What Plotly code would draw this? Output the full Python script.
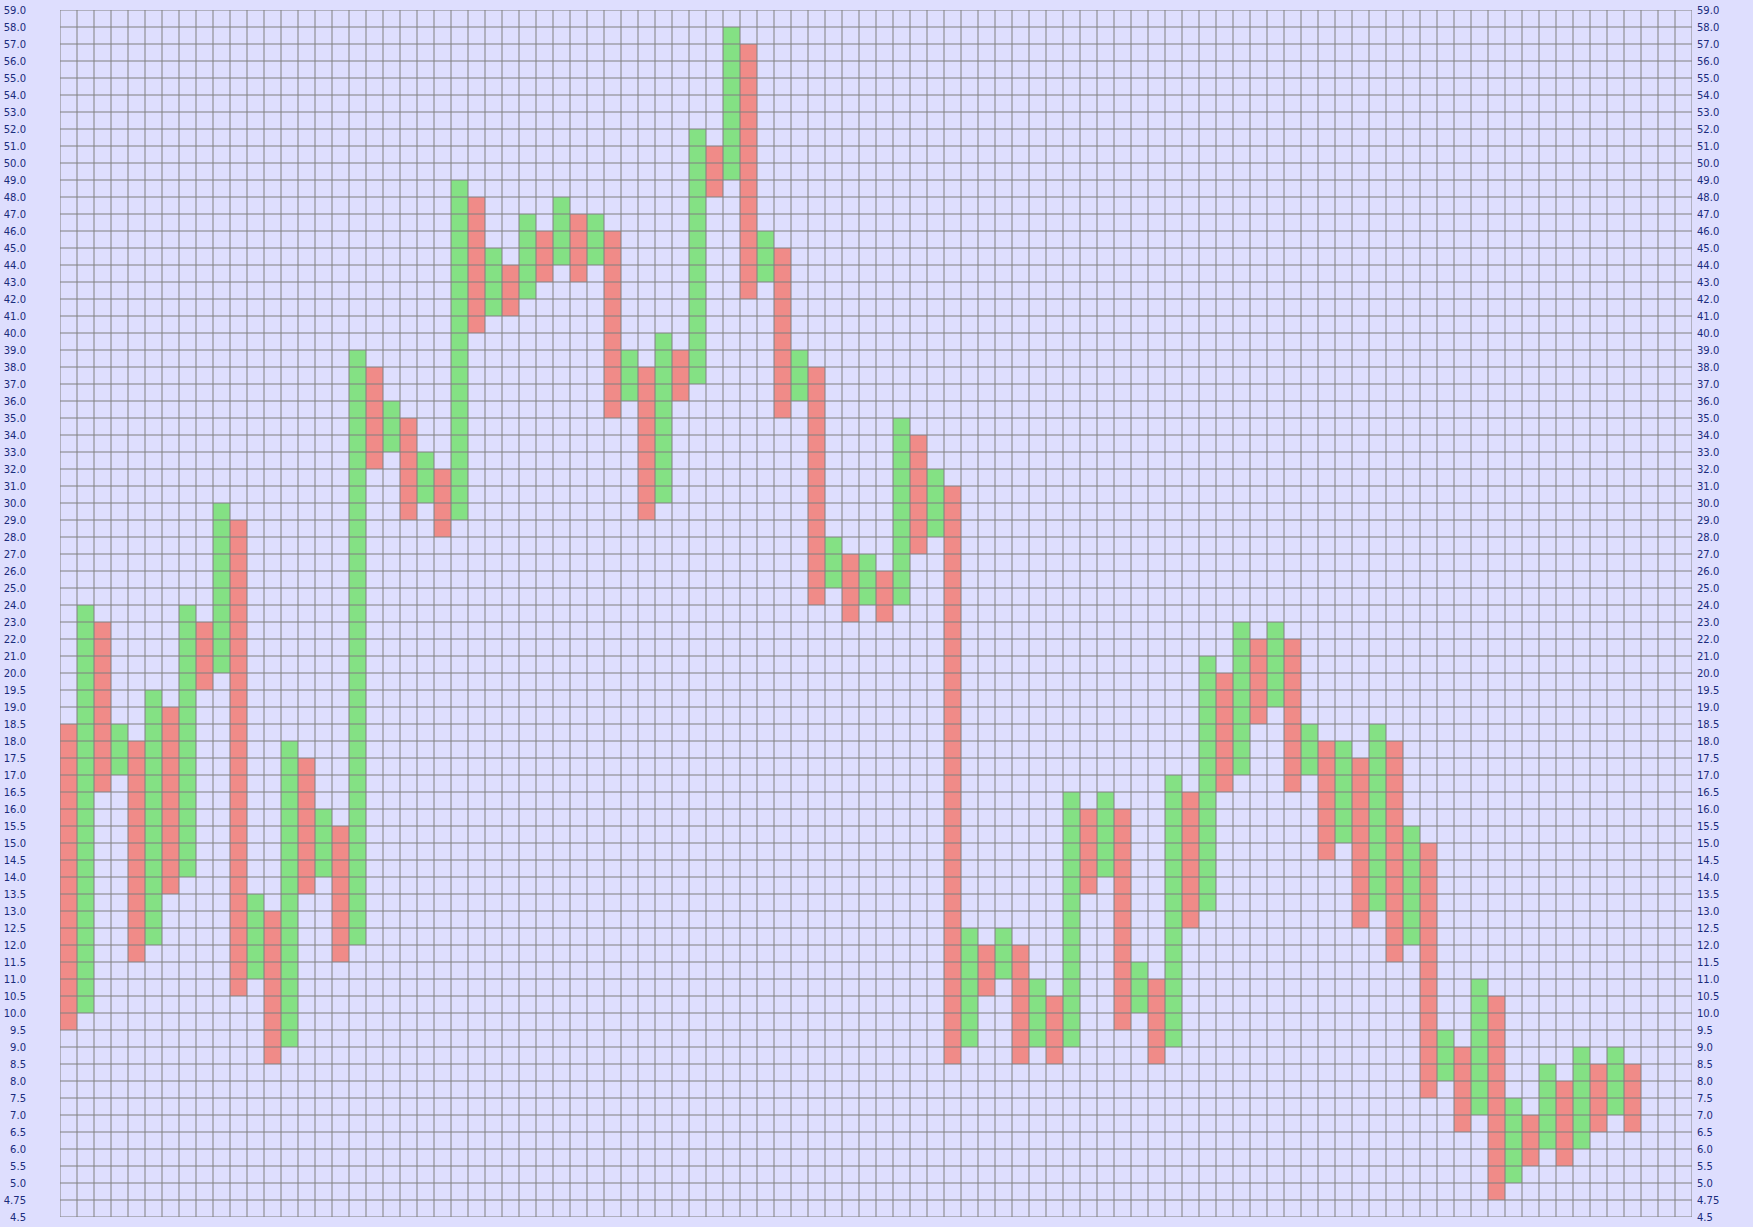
import plotly.graph_objects as go

# Row labels of the box scale, bottom to top
tick_labels = [
    "4.5", "4.75", "5.0", "5.5", "6.0", "6.5", "7.0", "7.5", "8.0", "8.5",
    "9.0", "9.5", "10.0", "10.5", "11.0", "11.5", "12.0", "12.5", "13.0", "13.5",
    "14.0", "14.5", "15.0", "15.5", "16.0", "16.5", "17.0", "17.5", "18.0", "18.5",
    "19.0", "19.5", "20.0", "21.0", "22.0", "23.0", "24.0", "25.0", "26.0", "27.0",
    "28.0", "29.0", "30.0", "31.0", "32.0", "33.0", "34.0", "35.0", "36.0", "37.0",
    "38.0", "39.0", "40.0", "41.0", "42.0", "43.0", "44.0", "45.0", "46.0", "47.0",
    "48.0", "49.0", "50.0", "51.0", "52.0", "53.0", "54.0", "55.0", "56.0", "57.0",
    "58.0", "59.0",
]

# Column direction: 1 = rising (green), 0 = falling (red)
directions = [
    0, 1, 0, 1, 0, 1, 0, 1, 0, 1,
    0, 1, 0, 1, 0, 1, 0, 1, 0, 1,
    0, 1, 0, 1, 0, 1, 0, 1, 0, 1,
    0, 1, 0, 1, 0, 1, 0, 1, 0, 1,
    0, 1, 0, 1, 0, 1, 0, 1, 0, 1,
    0, 1, 0, 1, 0, 1, 0, 1, 0, 1,
    0, 1, 0, 1, 0, 1, 0, 1, 0, 1,
    0, 1, 0, 1, 0, 1, 0, 1, 0, 1,
    0, 1, 0, 1, 0, 1, 0, 1, 0, 1,
    0, 1, 0,
]

# Lower edge of each column's box run
lows = [
    9.5, 10.0, 16.5, 17.0, 11.5, 12.0, 13.5, 14.0, 19.5, 20.0,
    10.5, 11.0, 8.5, 9.0, 13.5, 14.0, 11.5, 12.0, 32.0, 33.0,
    29.0, 30.0, 28.0, 29.0, 40.0, 41.0, 41.0, 42.0, 43.0, 44.0,
    43.0, 44.0, 35.0, 36.0, 29.0, 30.0, 36.0, 37.0, 48.0, 49.0,
    42.0, 43.0, 35.0, 36.0, 24.0, 25.0, 23.0, 24.0, 23.0, 24.0,
    27.0, 28.0, 8.5, 9.0, 10.5, 11.0, 8.5, 9.0, 8.5, 9.0,
    13.5, 14.0, 9.5, 10.0, 8.5, 9.0, 12.5, 13.0, 16.5, 17.0,
    18.5, 19.0, 16.5, 17.0, 14.5, 15.0, 12.5, 13.0, 11.5, 12.0,
    7.5, 8.0, 6.5, 7.0, 4.75, 5.0, 5.5, 6.0, 5.5, 6.0,
    6.5, 7.0, 6.5,
]

# Upper edge of each column's box run
highs = [
    18.5, 24.0, 23.0, 18.5, 18.0, 19.5, 19.0, 24.0, 23.0, 30.0,
    29.0, 13.5, 13.0, 18.0, 17.5, 16.0, 15.5, 39.0, 38.0, 36.0,
    35.0, 33.0, 32.0, 49.0, 48.0, 45.0, 44.0, 47.0, 46.0, 48.0,
    47.0, 47.0, 46.0, 39.0, 38.0, 40.0, 39.0, 52.0, 51.0, 58.0,
    57.0, 46.0, 45.0, 39.0, 38.0, 28.0, 27.0, 27.0, 26.0, 35.0,
    34.0, 32.0, 31.0, 12.5, 12.0, 12.5, 12.0, 11.0, 10.5, 16.5,
    16.0, 16.5, 16.0, 11.5, 11.0, 17.0, 16.5, 21.0, 20.0, 23.0,
    22.0, 23.0, 22.0, 18.5, 18.0, 18.0, 17.5, 18.5, 18.0, 15.5,
    15.0, 9.5, 9.0, 11.0, 10.5, 7.5, 7.0, 8.5, 8.0, 9.0,
    8.5, 9.0, 8.5,
]

n_columns = 96

BG = "#DEDEFE"
GREEN = "#84E184"
RED = "#F08B88"
GRID = "#808080"
TEXT = "#1A2B7C"

row_of = {float(t): i for i, t in enumerate(tick_labels)}
n_rows = len(tick_labels) - 1

fig = go.Figure()

for d, color in ((1, GREEN), (0, RED)):
    xs, bases, heights = [], [], []
    for i, (dd, lo, hi) in enumerate(zip(directions, lows, highs)):
        if dd != d:
            continue
        xs.append(i + 0.5)
        bases.append(row_of[lo])
        heights.append(row_of[hi] - row_of[lo])
    fig.add_trace(go.Bar(
        x=xs, y=heights, base=bases, width=1.0,
        marker=dict(color=color, line=dict(width=0)),
        hoverinfo="skip", showlegend=False,
        xaxis="x", yaxis="y",
    ))

# Grid drawn on top of the boxes
gx, gy = [], []
for c in range(n_columns + 1):
    gx += [c, c, None]
    gy += [0, n_rows, None]
for r in range(n_rows + 1):
    gx += [0, n_columns, None]
    gy += [r, r, None]
fig.add_trace(go.Scatter(
    x=gx, y=gy, mode="lines",
    line=dict(color=GRID, width=1),
    hoverinfo="skip", showlegend=False,
    xaxis="x", yaxis="y2",
))

ticks = list(range(len(tick_labels)))
font = dict(family="DejaVu Sans, Verdana, sans-serif", size=10, color=TEXT)

fig.update_layout(
    width=1753, height=1227,
    margin=dict(l=60, r=61, t=10, b=10, autoexpand=False),
    paper_bgcolor=BG, plot_bgcolor=BG,
    barmode="overlay", bargap=0,
    showlegend=False,
    xaxis=dict(range=[0, n_columns], showgrid=False, zeroline=False,
               showticklabels=False, ticks="", fixedrange=True,
               automargin=False),
    yaxis=dict(range=[0, n_rows], tickvals=ticks, ticktext=tick_labels,
               showgrid=False, zeroline=False, ticks="",
               ticklabelstandoff=33, tickfont=font, fixedrange=True,
               automargin=False),
    yaxis2=dict(range=[0, n_rows], overlaying="y", side="right",
                tickvals=ticks, ticktext=tick_labels,
                showgrid=False, zeroline=False, ticks="",
                ticklabelstandoff=4, tickfont=font, fixedrange=True,
                automargin=False),
)

fig.write_html(
    "out.html",
    config={"displayModeBar": False},
    post_script="document.body.style.margin='0';document.body.style.background='" + BG + "';",
)
